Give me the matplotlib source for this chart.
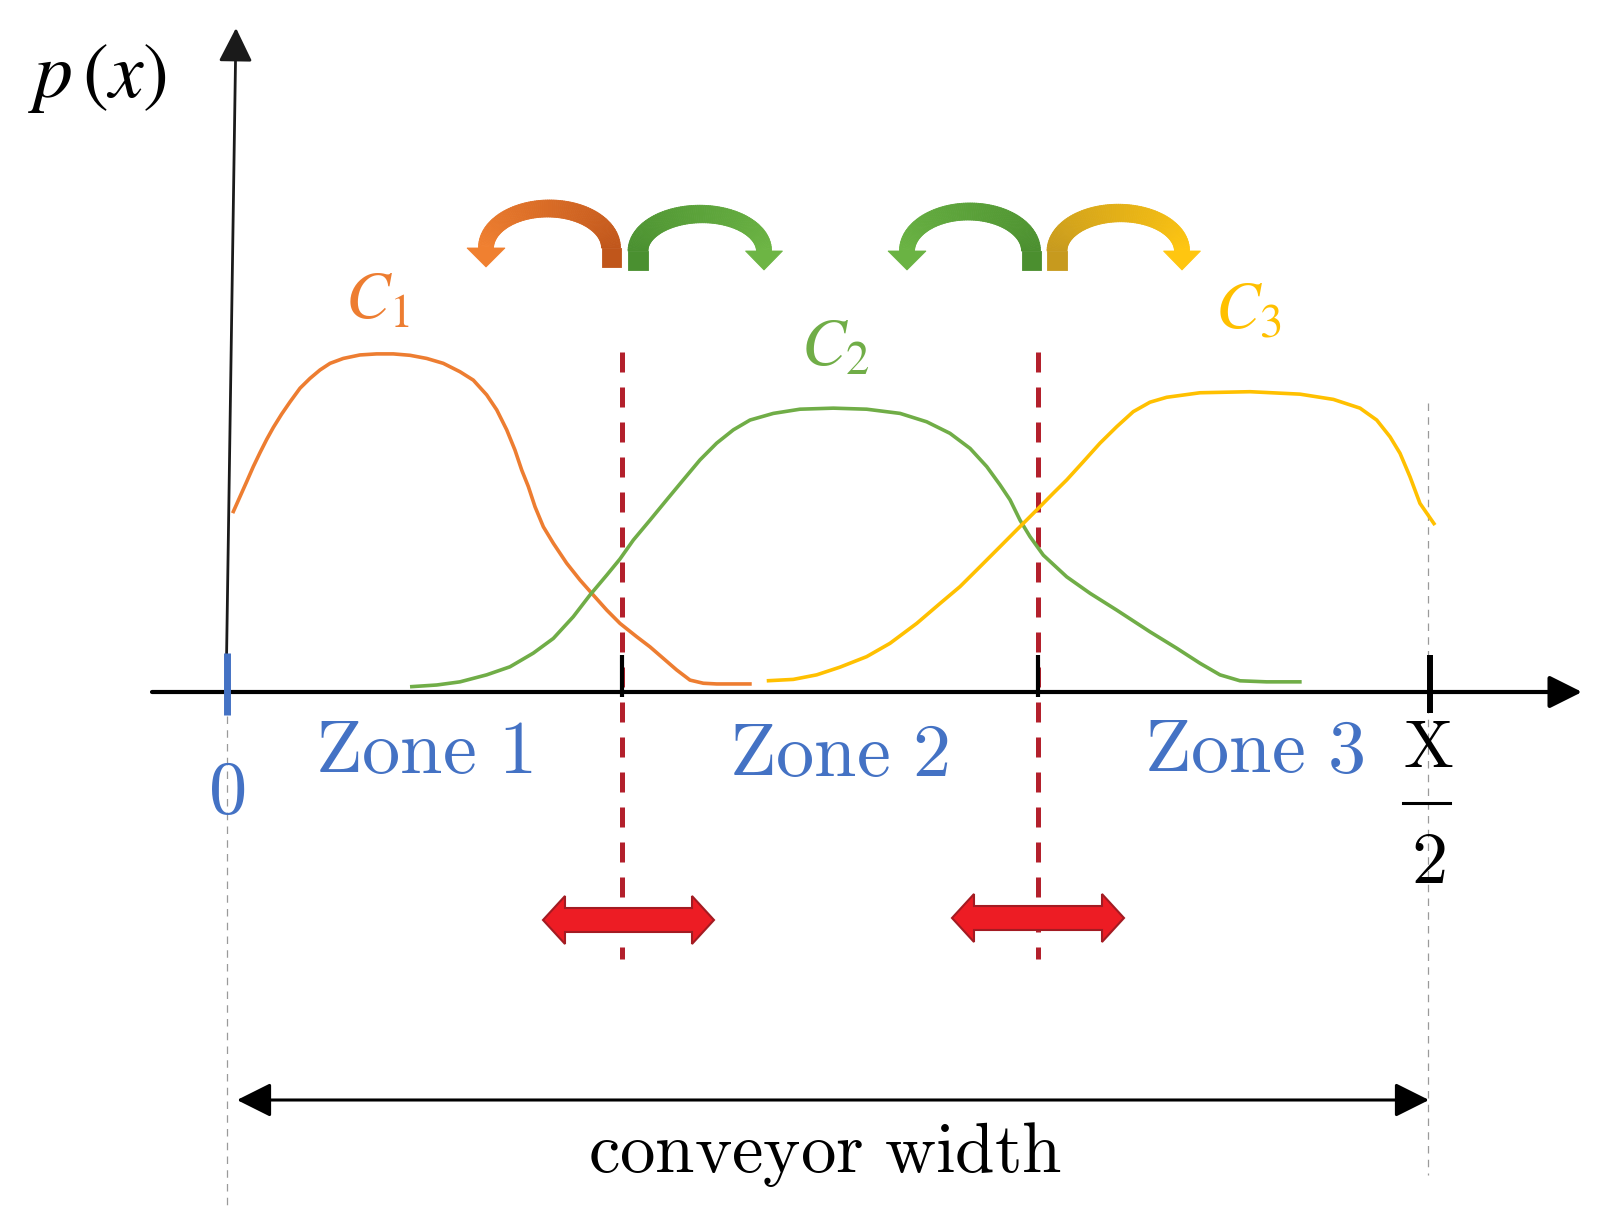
import numpy as np
import matplotlib
matplotlib.use("Agg")
import matplotlib.pyplot as plt
from matplotlib.patches import Polygon
from matplotlib.collections import PolyCollection

# --- data: position across half the belt (0 .. X/2 = 1) and density p(x) ---
c1_x = [0.0047, 0.0108, 0.0164, 0.0219, 0.0275, 0.0331, 0.0386, 0.0455, 0.0525, 0.0608,
        0.0691, 0.0774, 0.0858, 0.0968, 0.1107, 0.1246, 0.1385, 0.1524, 0.1663, 0.1801,
        0.1940, 0.2051, 0.2162, 0.2246, 0.2329, 0.2398, 0.2454, 0.2509, 0.2565, 0.2634,
        0.2717, 0.2828, 0.2939, 0.3050, 0.3162, 0.3272, 0.3411, 0.3522, 0.3633, 0.3744,
        0.3855, 0.3966, 0.4077, 0.4369]
c1_p = [0.511, 0.558, 0.601, 0.644, 0.684, 0.722, 0.756, 0.794, 0.829, 0.868,
        0.896, 0.920, 0.939, 0.953, 0.963, 0.966, 0.966, 0.962, 0.953, 0.939,
        0.915, 0.891, 0.849, 0.806, 0.749, 0.691, 0.634, 0.587, 0.529, 0.472,
        0.425, 0.368, 0.320, 0.277, 0.234, 0.196, 0.158, 0.129, 0.096, 0.063,
        0.034, 0.025, 0.023, 0.023]

c2_x = [0.1524, 0.1746, 0.1940, 0.2162, 0.2356, 0.2550, 0.2717, 0.2883, 0.3022, 0.3162,
        0.3272, 0.3383, 0.3522, 0.3661, 0.3799, 0.3938, 0.4077, 0.4216, 0.4355, 0.4549,
        0.4771, 0.5048, 0.5326, 0.5604, 0.5826, 0.6020, 0.6187, 0.6326, 0.6436, 0.6520,
        0.6603, 0.6686, 0.6797, 0.6992, 0.7186, 0.7408, 0.7685, 0.7908, 0.8102, 0.8268,
        0.8435, 0.8657, 0.8948]
c2_p = [0.015, 0.020, 0.029, 0.049, 0.072, 0.111, 0.153, 0.215, 0.277, 0.334,
        0.380, 0.434, 0.491, 0.549, 0.606, 0.663, 0.711, 0.749, 0.777, 0.796,
        0.808, 0.811, 0.808, 0.796, 0.772, 0.739, 0.696, 0.644, 0.592, 0.549,
        0.491, 0.444, 0.391, 0.329, 0.282, 0.234, 0.172, 0.125, 0.082, 0.049,
        0.032, 0.029, 0.029]

c3_x = [0.4494, 0.4715, 0.4910, 0.5104, 0.5326, 0.5520, 0.5743, 0.5937, 0.6103, 0.6270,
        0.6436, 0.6575, 0.6742, 0.6880, 0.6992, 0.7130, 0.7269, 0.7408, 0.7546, 0.7685,
        0.7824, 0.8102, 0.8518, 0.8934, 0.9212, 0.9434, 0.9573, 0.9684, 0.9767, 0.9850,
        0.9933, 1.0058]
c3_p = [0.032, 0.036, 0.049, 0.071, 0.101, 0.139, 0.196, 0.253, 0.301, 0.358,
        0.415, 0.463, 0.520, 0.568, 0.606, 0.658, 0.711, 0.758, 0.801, 0.828,
        0.842, 0.855, 0.858, 0.851, 0.836, 0.811, 0.777, 0.729, 0.682, 0.615,
        0.539, 0.477]

zone_edges = [0.329, 0.675]
zone_names = ["Zone 1", "Zone 2", "Zone 3"]

col_c1 = "#ED7D31"
col_c2 = "#70AD47"
col_c3 = "#FFC000"
blue = "#4472C4"
dark_red = "#B3202C"

# layout helpers: pixel position in the picture -> data units
PX0, PX1, PY0, PSCALE = 227, 1428, 692, 350.0


def X(px):
    return (np.asarray(px, dtype=float) - PX0) / (PX1 - PX0)


def Y(py):
    return (PY0 - np.asarray(py, dtype=float)) / PSCALE


fig = plt.figure(figsize=(16, 12.18), dpi=100)
ax = fig.add_axes([0, 0, 1, 1])
ax.set_xlim(X(0), X(1600))
ax.set_ylim(Y(1218), Y(0))
ax.axis("off")

# thin grey guides at 0 and X/2
ax.plot([0, 0], [Y(716), Y(1210)], color="#9a9a9a", lw=0.9, dashes=(6, 5))
ax.plot([1, 1], [Y(403), Y(1175)], color="#9a9a9a", lw=0.9, dashes=(6, 5))

# axes arrows
ax.annotate("", xy=(X(1582), 0), xytext=(X(152), 0),
            arrowprops=dict(arrowstyle="-|>,head_length=0.4,head_width=0.2",
                            mutation_scale=50, lw=3, color="black",
                            shrinkA=0, shrinkB=0), zorder=4)
ax.annotate("", xy=(X(236), Y(28)), xytext=(X(226), Y(694)),
            arrowprops=dict(arrowstyle="-|>,head_length=0.4,head_width=0.2",
                            mutation_scale=52, lw=2.0, color="#1a1a1a",
                            shrinkA=0, shrinkB=0), zorder=4)

# distributions
for xs, ps, c in [(c1_x, c1_p, col_c1), (c2_x, c2_p, col_c2), (c3_x, c3_p, col_c3)]:
    ax.plot(xs, ps, color=c, lw=2.6, solid_capstyle="butt", solid_joinstyle="round", zorder=3)

# zone boundaries
for e in zone_edges:
    ax.plot([e, e], [Y(352), Y(959)], color=dark_red, lw=3.6, dashes=(4, 3), zorder=2)
    ax.plot([e, e], [Y(655), Y(697)], color="black", lw=3, solid_capstyle="butt", zorder=5)

# ticks at 0 and X/2
ax.plot([0, 0], [Y(653), Y(715)], color=blue, lw=5, solid_capstyle="butt", zorder=6)
ax.plot([X(1430), X(1430)], [Y(655), Y(713)], color="black", lw=4.3,
        solid_capstyle="butt", zorder=6)

# labels
ax.text(X(28), Y(97), r"$p\,(x)$", fontsize=56, math_fontfamily="stix",
        ha="left", va="baseline")
for name, px, base in zip(zone_names, [424, 839, 1254], [773, 776, 772]):
    ax.text(X(px), Y(base), r"$\mathrm{%s}$" % name.replace(" ", r"\ "), fontsize=55,
            math_fontfamily="cm", color=blue, ha="center", va="baseline")
ax.text(0, Y(813), r"$\mathrm{0}$", fontsize=55, math_fontfamily="cm", color=blue,
        ha="center", va="baseline")
ax.text(X(1428), Y(767), r"$\mathrm{X}$", fontsize=48, math_fontfamily="cm",
        ha="center", va="baseline")
ax.plot([X(1403), X(1450)], [Y(803), Y(803)], color="black", lw=2.2)
ax.text(X(1428), Y(883), r"$\mathrm{2}$", fontsize=52, math_fontfamily="cm",
        ha="center", va="baseline")

for lab, c, px, base in [(r"$C_1$", col_c1, 345, 318), (r"$C_2$", col_c2, 801, 365),
                         (r"$C_3$", col_c3, 1215, 329)]:
    ax.text(X(px), Y(base), lab, fontsize=48, math_fontfamily="stix", color=c,
            ha="left", va="baseline")


# curved transfer arrows above the boundaries (geometry in picture pixels)
def curved_arrow(base, tip, bottom, head_len, top, t_base, t_head, head_w, c_base, c_head):
    s = 1 if tip > base else -1
    hb = bottom - head_len
    cx = (base + tip) / 2.0
    rx = abs(base - tip) / 2.0
    ry = hb - (top + t_base / 2.0)
    t = np.linspace(0, np.pi, 100)
    xs = np.concatenate([[base], cx - s * rx * np.cos(t)])
    ys = np.concatenate([[bottom], hb - ry * np.sin(t)])
    tx = np.concatenate([[0.0], s * rx * np.sin(t)])
    ty = np.concatenate([[-1.0], -ry * np.cos(t)])
    tx[1], ty[1] = 0.0, -1.0
    n = np.hypot(tx, ty)
    ux, uy = tx / n, ty / n
    nx, ny = -uy, ux
    w = np.concatenate([[t_base], np.linspace(t_base, t_head, len(t))]) / 2.0
    lx, ly = xs + nx * w, ys + ny * w
    rx_, ry_ = xs - nx * w, ys - ny * w
    cb = np.array(matplotlib.colors.to_rgb(c_base))
    ch = np.array(matplotlib.colors.to_rgb(c_head))
    quads, cols = [], []
    for i in range(len(xs) - 1):
        q = [(lx[i], ly[i]), (lx[i + 1], ly[i + 1]), (rx_[i + 1], ry_[i + 1]), (rx_[i], ry_[i])]
        quads.append([(X(p), Y(r)) for p, r in q])
        f = i / (len(xs) - 2)
        cols.append(cb * (1 - f) + ch * f)
    ax.add_collection(PolyCollection(quads, facecolors=cols, edgecolors=cols,
                                     linewidths=0.6, zorder=4))
    head = [(tip - head_w / 2, hb), (tip + head_w / 2, hb), (tip, bottom)]
    ax.add_patch(Polygon([(X(p), Y(r)) for p, r in head], closed=True,
                         facecolor=ch, edgecolor=ch, lw=0.6, zorder=4))


curved_arrow(611, 486, 267, 19, 199, 19, 15, 38, "#C0561B", "#F08030")
curved_arrow(638, 764, 270, 19, 204, 20, 15, 37, "#4A9030", "#6DB544")
curved_arrow(1031, 907, 270, 19, 202, 19, 15, 38, "#4B8F2F", "#6AB343")
curved_arrow(1057, 1182, 270, 19, 203, 20, 15, 37, "#C79A1E", "#FFC610")


# red double arrows: boundaries can move
def double_arrow(xl, xr, yc, shaft=12, head=24, hl=22):
    pts = [(xl, yc), (xl + hl, yc - head), (xl + hl, yc - shaft), (xr - hl, yc - shaft),
           (xr - hl, yc - head), (xr, yc), (xr - hl, yc + head), (xr - hl, yc + shaft),
           (xl + hl, yc + shaft), (xl + hl, yc + head)]
    ax.add_patch(Polygon([(X(p), Y(r)) for p, r in pts], closed=True,
                         facecolor="#ED1C24", edgecolor="#A31B22", lw=1.5, zorder=4))


double_arrow(543, 714, 920)
double_arrow(952, 1124, 918)

# conveyor width
ax.annotate("", xy=(X(1429), Y(1100)), xytext=(X(237), Y(1100)),
            arrowprops=dict(arrowstyle="<|-|>,head_length=0.6,head_width=0.3",
                            mutation_scale=35, lw=2.2, color="black",
                            shrinkA=0, shrinkB=0))
ax.text(X(825), Y(1172), r"$\mathrm{conveyor\ width}$", fontsize=51,
        math_fontfamily="cm", ha="center", va="baseline")

fig.savefig("out.png", dpi=100, facecolor="white")
